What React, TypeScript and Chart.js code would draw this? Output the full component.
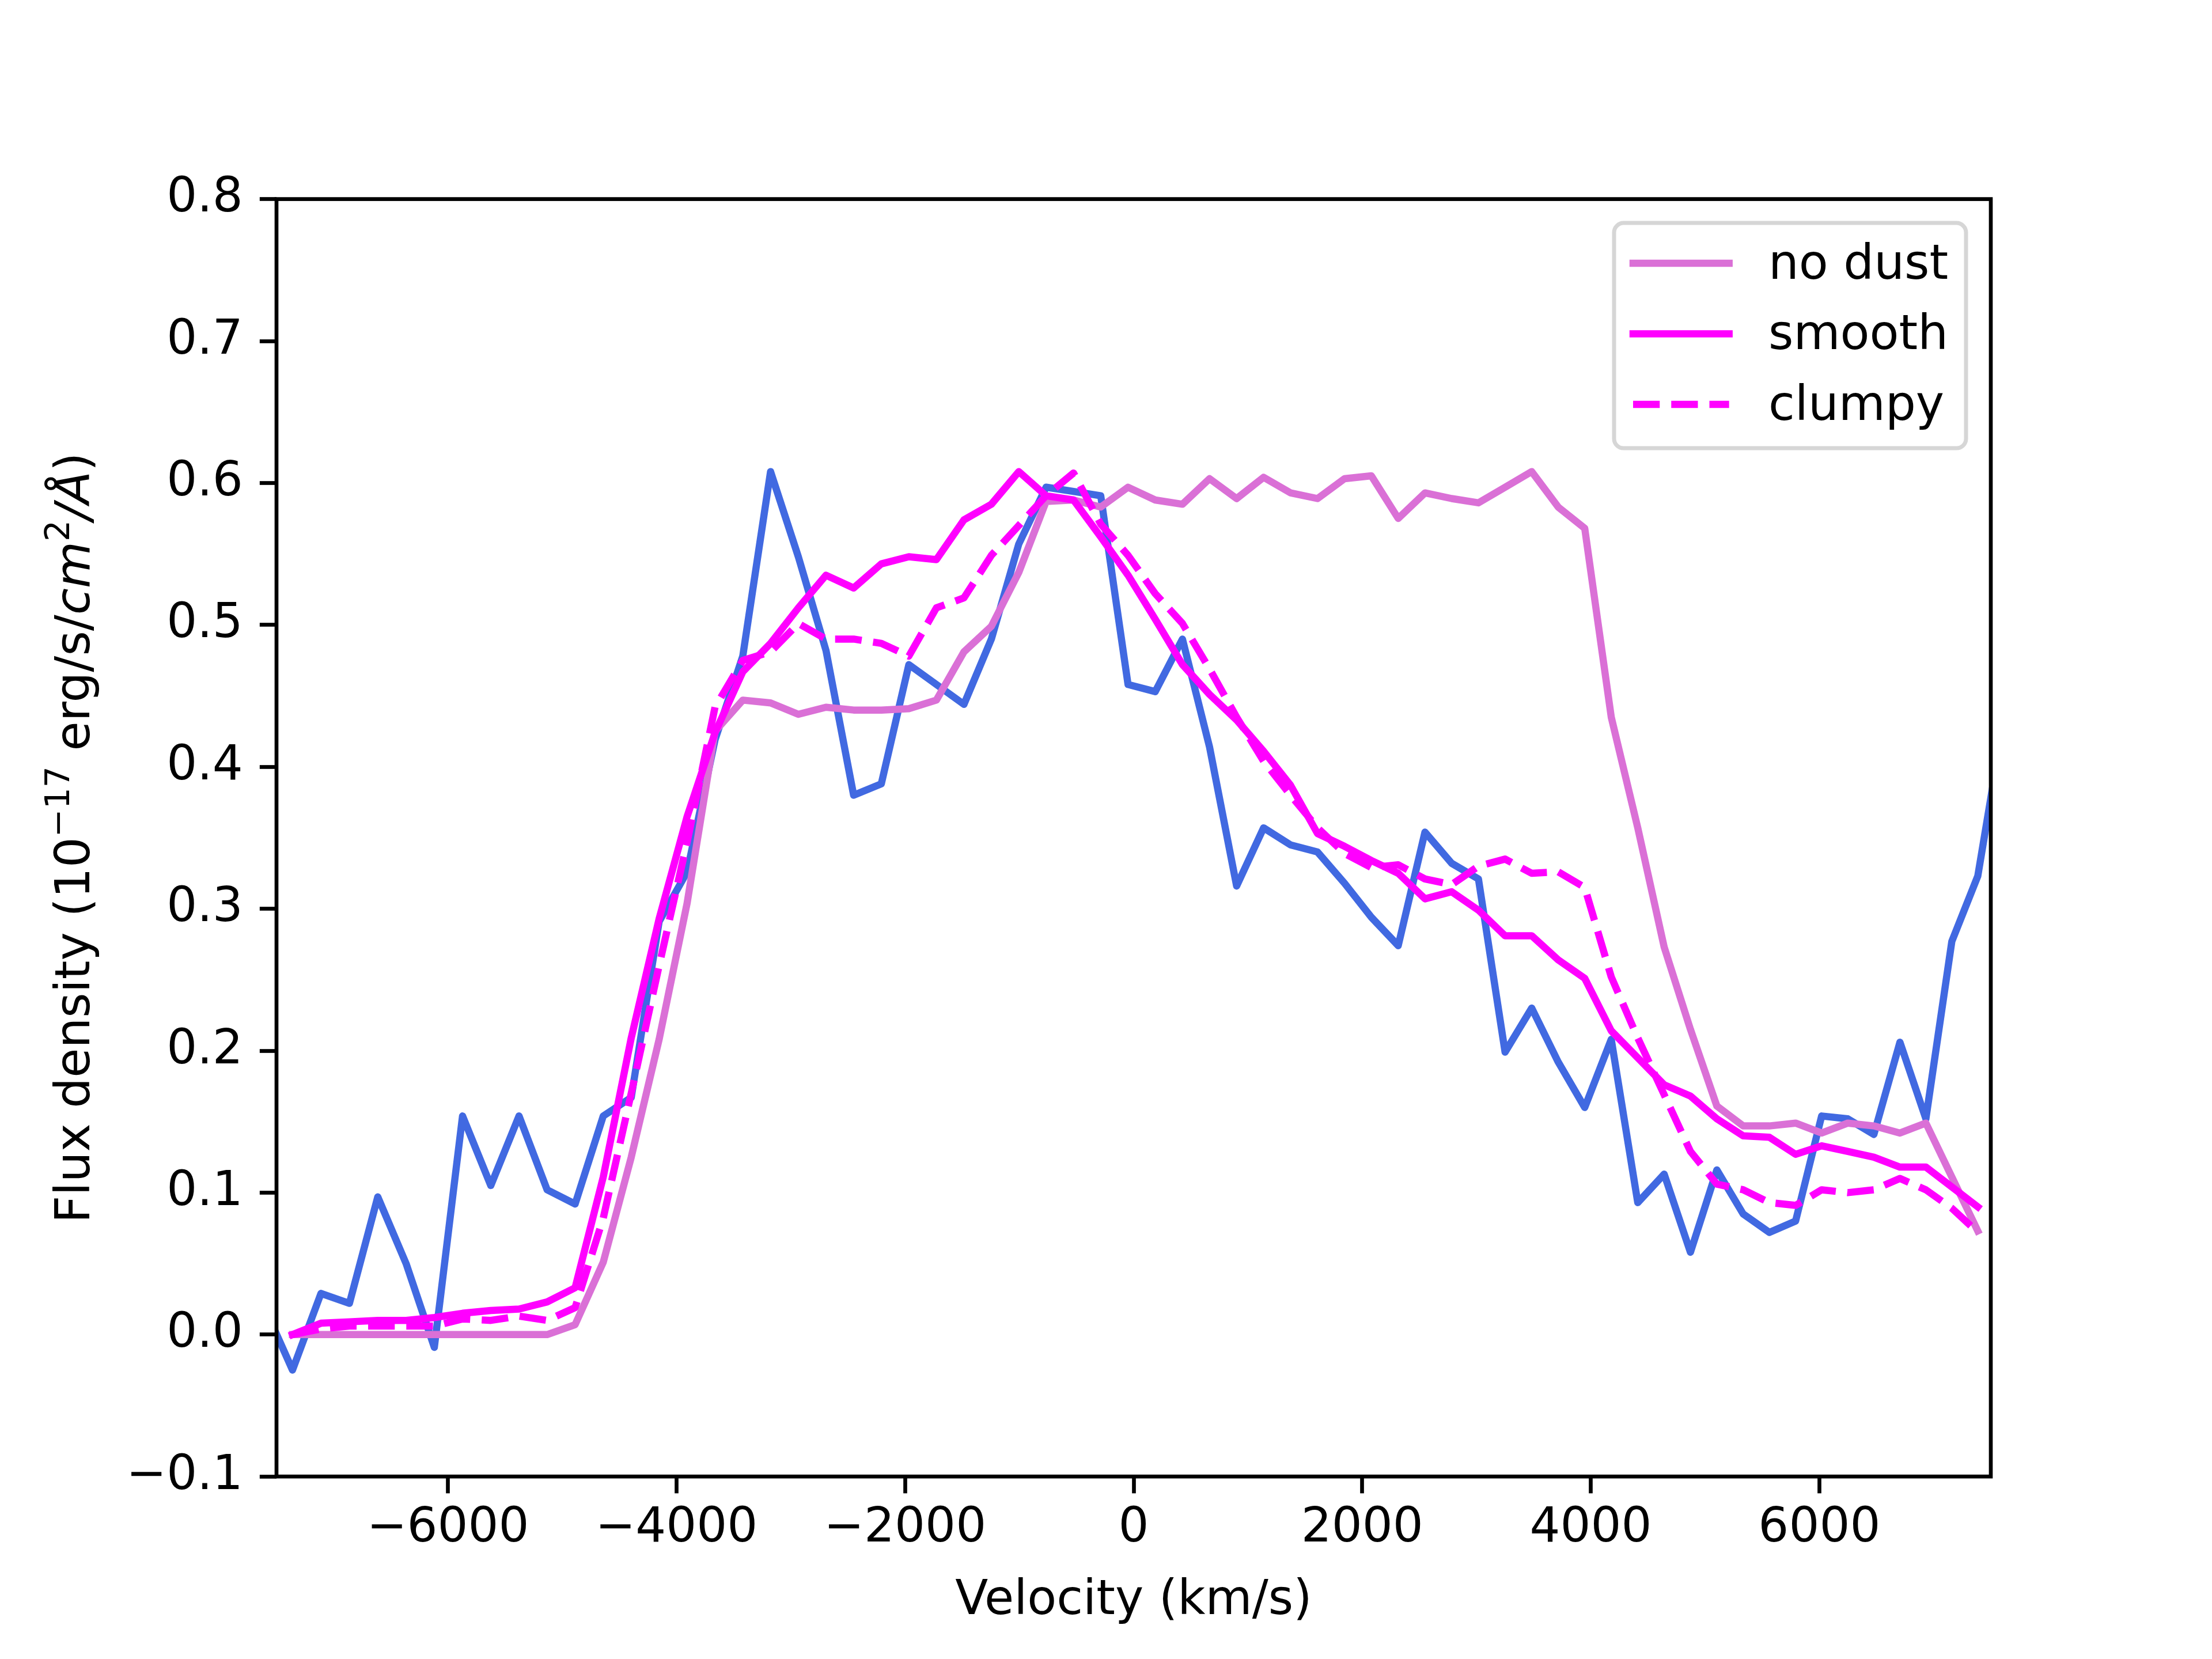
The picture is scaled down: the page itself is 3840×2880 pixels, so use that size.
import React, { useEffect, useRef } from 'react';
import { Chart, registerables } from 'chart.js';

Chart.register(...registerables);

// velocity grid (km/s); models use velocity[1..63], observed uses all
const velocity = [
  -7609, -7360, -7111, -6862, -6614, -6366, -6119, -5872, -5625, -5378,
  -5132, -4887, -4641, -4396, -4152, -3907, -3663, -3420, -3177, -2934,
  -2692, -2450, -2208, -1967, -1726, -1485, -1245, -1005, -766, -526,
  -288, -49, 189, 427, 664, 901, 1137, 1373, 1609, 1845,
  2080, 2315, 2549, 2783, 3017, 3250, 3483, 3715, 3947, 4179,
  4411, 4642, 4872, 5103, 5333, 5562, 5792, 6020, 6249, 6477,
  6705, 6932, 7159, 7386, 7612,
];

const observed = [
  0.02, -0.025, 0.029, 0.022, 0.097, 0.05, -0.009, 0.154, 0.105, 0.154,
  0.102, 0.092, 0.154, 0.167, 0.291, 0.326, 0.419, 0.478, 0.608, 0.548,
  0.482, 0.38, 0.388, 0.472, 0.458, 0.444, 0.49, 0.557, 0.597, 0.594,
  0.591, 0.458, 0.453, 0.49, 0.414, 0.316, 0.357, 0.345, 0.34, 0.318,
  0.294, 0.274, 0.354, 0.332, 0.321, 0.199, 0.23, 0.192, 0.16, 0.208,
  0.093, 0.113, 0.058, 0.116, 0.085, 0.072, 0.08, 0.154, 0.152, 0.141,
  0.206, 0.152, 0.277, 0.323, 0.432,
];

const noDust = [
  0, 0, 0, 0, 0, 0, 0, 0, 0, 0,
  0.007, 0.051, 0.125, 0.208, 0.304, 0.425, 0.447, 0.445, 0.437, 0.442,
  0.44, 0.44, 0.441, 0.447, 0.481, 0.499, 0.537, 0.587, 0.588, 0.583,
  0.597, 0.588, 0.585, 0.603, 0.589, 0.604, 0.593, 0.589, 0.603, 0.605,
  0.575, 0.593, 0.589, 0.586, 0.597, 0.608, 0.583, 0.568, 0.435, 0.357,
  0.273, 0.215, 0.161, 0.147, 0.147, 0.149, 0.142, 0.149, 0.147, 0.142,
  0.149, 0.111, 0.073,
];

const smooth = [
  0, 0.008, 0.009, 0.01, 0.01, 0.012, 0.015, 0.017, 0.018, 0.023,
  0.033, 0.111, 0.209, 0.293, 0.365, 0.424, 0.467, 0.487, 0.512, 0.535,
  0.526, 0.543, 0.548, 0.546, 0.574, 0.585, 0.608, 0.591, 0.588, 0.562,
  0.535, 0.504, 0.472, 0.451, 0.433, 0.411, 0.387, 0.353, 0.344, 0.334,
  0.325, 0.307, 0.312, 0.299, 0.281, 0.281, 0.264, 0.251, 0.214, 0.195,
  0.176, 0.168, 0.152, 0.14, 0.139, 0.127, 0.133, 0.129, 0.125, 0.118,
  0.118, 0.104, 0.09,
];

const clumpy = [
  0, 0.004, 0.006, 0.006, 0.006, 0.006, 0.011, 0.01, 0.013, 0.01,
  0.019, 0.082, 0.17, 0.26, 0.347, 0.442, 0.475, 0.481, 0.501, 0.49,
  0.49, 0.487, 0.478, 0.512, 0.519, 0.549, 0.57, 0.591, 0.607, 0.571,
  0.549, 0.522, 0.501, 0.469, 0.435, 0.404, 0.38, 0.357, 0.339, 0.329,
  0.331, 0.321, 0.317, 0.33, 0.335, 0.325, 0.326, 0.315, 0.252, 0.209,
  0.169, 0.129, 0.106, 0.102, 0.093, 0.091, 0.102, 0.1, 0.102, 0.11,
  0.102, 0.089, 0.072,
];

const xTicks = [-6000, -4000, -2000, 0, 2000, 4000, 6000];
const yTicks = [-0.1, 0, 0.1, 0.2, 0.3, 0.4, 0.5, 0.6, 0.7, 0.8];

const PT = 600 / 72;
const FS = 10 * PT;
const LW = 1.5 * PT;
const FAMILY = '"DejaVu Sans"';
const minus = (s) => s.replace('-', '\u2212');

const frame = {
  id: 'frame',
  afterDatasetsDraw(chart) {
    const { ctx, chartArea: a } = chart;
    ctx.save();
    ctx.strokeStyle = '#000';
    ctx.lineWidth = 0.8 * PT;
    ctx.strokeRect(a.left, a.top, a.right - a.left, a.bottom - a.top);
    ctx.restore();
  },
};

const legendBox = {
  id: 'legendBox',
  afterDraw(chart) {
    const { ctx, chartArea: a } = chart;
    const items = chart.data.datasets.filter((d) => d.label);
    const w = 611;
    const h = 391;
    const left = a.right - 43 - w;
    const top = a.top + 41.5;
    ctx.save();
    ctx.beginPath();
    ctx.roundRect(left, top, w, h, 0.2 * FS);
    ctx.fillStyle = 'rgba(255,255,255,0.8)';
    ctx.fill();
    ctx.strokeStyle = '#d6d6d6';
    ctx.lineWidth = 7;
    ctx.stroke();
    items.forEach((d, i) => {
      const y = top + 70 + i * 122.5;
      const dashed = d.borderDash && d.borderDash.length;
      ctx.beginPath();
      ctx.setLineDash(dashed ? d.borderDash : []);
      ctx.lineCap = dashed ? 'butt' : 'square';
      ctx.strokeStyle = d.borderColor;
      ctx.lineWidth = LW;
      ctx.moveTo(left + 33, y);
      ctx.lineTo(left + 33 + 2 * FS, y);
      ctx.stroke();
      ctx.setLineDash([]);
      ctx.fillStyle = '#000';
      ctx.font = `${FS}px ${FAMILY}`;
      ctx.textBaseline = 'middle';
      ctx.textAlign = 'left';
      ctx.fillText(d.label, left + 268, y + 5);
    });
    ctx.restore();
  },
};

const yTitle = {
  id: 'yTitle',
  afterDraw(chart) {
    const { ctx, chartArea: a } = chart;
    const sup = 0.7 * FS;
    const rise = -0.42 * FS;
    const parts = [
      ['Flux density (10', 'normal', FS, 0],
      ['\u221217', 'normal', sup, rise],
      [' erg/s/', 'normal', FS, 0],
      ['cm', 'italic', FS, 0],
      ['2', 'normal', sup, rise],
      ['/\u00C5', 'italic', FS, 0],
      [')', 'normal', FS, 0],
    ];
    const font = (style, size) => `${style} ${size}px ${FAMILY}`;
    ctx.save();
    let total = 0;
    const widths = parts.map(([t, s, z]) => {
      ctx.font = font(s, z);
      const tw = ctx.measureText(t).width;
      total += tw;
      return tw;
    });
    ctx.translate(155, (a.top + a.bottom) / 2);
    ctx.rotate(-Math.PI / 2);
    ctx.fillStyle = '#000';
    ctx.textBaseline = 'alphabetic';
    ctx.textAlign = 'left';
    let x = -total / 2;
    parts.forEach(([t, s, z, dy], i) => {
      ctx.font = font(s, z);
      ctx.fillText(t, x, dy);
      x += widths[i];
    });
    ctx.restore();
  },
};

const line = (label, values, xs, color, order, dash) => ({
  label,
  data: values.map((y, i) => ({ x: xs[i], y })),
  borderColor: color,
  backgroundColor: color,
  borderWidth: LW,
  borderDash: dash,
  borderCapStyle: dash.length ? 'butt' : 'square',
  borderJoinStyle: 'round',
  pointRadius: 0,
  tension: 0,
  fill: false,
  order,
});

const tickGrid = {
  drawOnChartArea: false,
  drawTicks: true,
  tickLength: 3.5 * PT,
  tickWidth: 0.8 * PT,
  tickColor: '#000',
};

export const SpectrumChart = () => {
  const canvasRef = useRef(null);

  useEffect(() => {
    document.body.style.margin = '0';
    const models = velocity.slice(1, 64);
    const chart = new Chart(canvasRef.current, {
      type: 'line',
      data: {
        datasets: [
          line('no dust', noDust, models, 'orchid', 3, []),
          line('smooth', smooth, models, 'magenta', 2, []),
          line('clumpy', clumpy, models, 'magenta', 1, [3.7 * LW, 1.6 * LW]),
          line('', observed, velocity, 'royalblue', 4, []),
        ],
      },
      options: {
        animation: false,
        responsive: false,
        devicePixelRatio: 1,
        layout: { padding: { left: 0, right: 384, top: 345.6, bottom: 0 } },
        plugins: {
          legend: { display: false },
          tooltip: { enabled: false },
        },
        scales: {
          x: {
            type: 'linear',
            min: -7500,
            max: 7500,
            afterFit: (s) => { s.height = 316.8; },
            afterBuildTicks: (s) => { s.ticks = xTicks.map((value) => ({ value })); },
            border: { display: false },
            grid: tickGrid,
            ticks: {
              autoSkip: false,
              maxRotation: 0,
              padding: 12,
              color: '#000',
              font: { family: FAMILY, size: FS },
              callback: (v) => minus(String(v)),
            },
            title: {
              display: true,
              text: 'Velocity (km/s)',
              color: '#000',
              font: { family: FAMILY, size: FS },
              padding: { top: 0, bottom: 50 },
            },
          },
          y: {
            type: 'linear',
            min: -0.1,
            max: 0.8,
            afterFit: (s) => { s.width = 480; },
            afterBuildTicks: (s) => { s.ticks = yTicks.map((value) => ({ value })); },
            border: { display: false },
            grid: tickGrid,
            ticks: {
              autoSkip: false,
              padding: 3.5 * PT,
              color: '#000',
              font: { family: FAMILY, size: FS },
              callback: (v) => minus(Number(v).toFixed(1)),
            },
          },
        },
      },
      plugins: [frame, legendBox, yTitle],
    });

    return () => {
      chart.destroy();
    };
  }, []);

  return (
    <div style={{ width: 3840, height: 2880, background: '#fff' }}>
      <canvas ref={canvasRef} width={3840} height={2880} style={{ display: 'block', width: 3840, height: 2880 }} />
    </div>
  );
};

export default function App() {
  return <SpectrumChart />;
}
